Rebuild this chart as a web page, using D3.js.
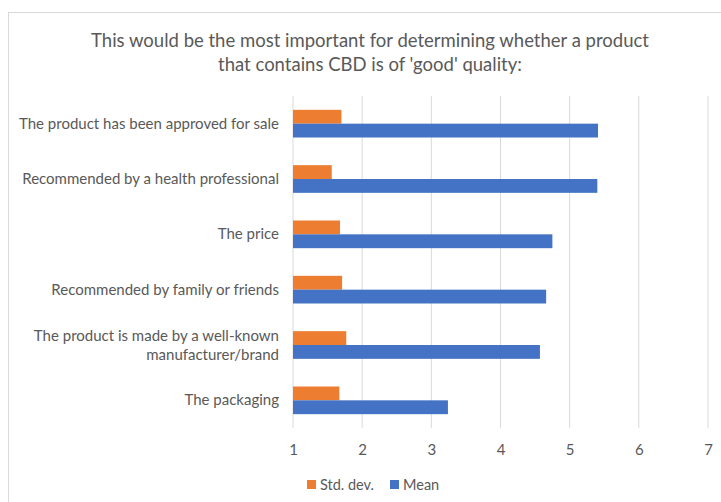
<!DOCTYPE html>
<html>
<head>
<meta charset="utf-8">
<script src="https://cdn.jsdelivr.net/npm/d3@7"></script>
<style>
  html, body { margin: 0; padding: 0; background: #fff; }
  svg { display: block; }
  text { font-family: Lato, "Open Sans", sans-serif; fill: #595959; }
</style>
</head>
<body>
<svg id="chart" width="721" height="502"></svg>
<script>
// Survey items (top to bottom) with their lines as drawn
const categories = [
  ["The product has been approved for sale"],
  ["Recommended by a health professional"],
  ["The price"],
  ["Recommended by family or friends"],
  ["The product is made by a well-known", "manufacturer/brand"],
  ["The packaging"]
];
const stdDev = [1.70, 1.56, 1.68, 1.71, 1.77, 1.67];
const mean   = [5.41, 5.40, 4.75, 4.66, 4.57, 3.24];
const xTicks = [1, 2, 3, 4, 5, 6, 7];
const seriesNames = ["Std. dev.", "Mean"];
const colors = ["#ED7D31", "#4472C4"];
const titleLines = [
  "This would be the most important for determining whether a product",
  "that contains CBD is of 'good' quality:"
];

const svg = d3.select("#chart");

// Chart-area frame
svg.append("rect")
  .attr("x", 8.5).attr("y", 12.5)
  .attr("width", 740).attr("height", 520)
  .attr("fill", "none").attr("stroke", "#d9d9d9");

const plot = { left: 293, right: 708, top: 96, bottom: 428 };

const x = d3.scaleLinear().domain([1, 7]).range([plot.left, plot.right]);
const y = d3.scaleBand()
  .domain(d3.range(categories.length))
  .range([plot.top, plot.bottom])
  .paddingInner(0.5).paddingOuter(0.25);
const inner = d3.scaleBand().domain([0, 1]).range([0, y.bandwidth()]);

// Title
svg.append("text")
  .attr("x", 370).attr("y", 47)
  .attr("text-anchor", "middle")
  .style("font-size", "18.5px")
  .selectAll("tspan").data(titleLines).join("tspan")
  .attr("x", 370).attr("dy", (d, i) => i === 0 ? 0 : 24)
  .text(d => d);

// Vertical gridlines
svg.append("g")
  .selectAll("line").data(xTicks).join("line")
  .attr("x1", d => x(d)).attr("x2", d => x(d))
  .attr("y1", plot.top).attr("y2", plot.bottom)
  .attr("stroke", "#d9d9d9").attr("stroke-width", 1);

// Bars
const series = [stdDev, mean];
series.forEach((vals, s) => {
  svg.append("g")
    .selectAll("rect").data(vals).join("rect")
    .attr("x", x(1))
    .attr("y", (d, i) => y(i) + inner(s))
    .attr("width", d => x(d) - x(1))
    .attr("height", inner.bandwidth())
    .attr("fill", colors[s]);
});

// Category labels
const catG = svg.append("g");
categories.forEach((lines, i) => {
  const cy = y(i) + y.bandwidth() / 2;
  const lh = 19;
  const t = catG.append("text")
    .attr("text-anchor", "end")
    .style("font-size", "15px");
  lines.forEach((ln, j) => {
    t.append("tspan")
      .attr("x", 279)
      .attr("y", cy + 5 + (j - (lines.length - 1) / 2) * lh)
      .text(ln);
  });
});

// X axis tick labels
const xAxis = d3.axisBottom(x).tickValues(xTicks).tickSize(0).tickPadding(0).tickFormat(d3.format("d"));
const ax = svg.append("g").attr("transform", `translate(0,${plot.bottom + 16})`).call(xAxis);
ax.select(".domain").remove();
ax.selectAll("text")
  .attr("dy", "0.71em")
  .style("font-size", "15px")
  .style("font-family", "Lato, 'Open Sans', sans-serif")
  .attr("fill", "#595959");

// Legend
const legendX = [307, 390];
const lg = svg.append("g");
seriesNames.forEach((name, i) => {
  lg.append("rect")
    .attr("x", legendX[i]).attr("y", 480)
    .attr("width", 9).attr("height", 9)
    .attr("fill", colors[i]);
  lg.append("text")
    .attr("x", legendX[i] + 13).attr("y", 489.5)
    .style("font-size", "14.5px")
    .text(name);
});
</script>
</body>
</html>
